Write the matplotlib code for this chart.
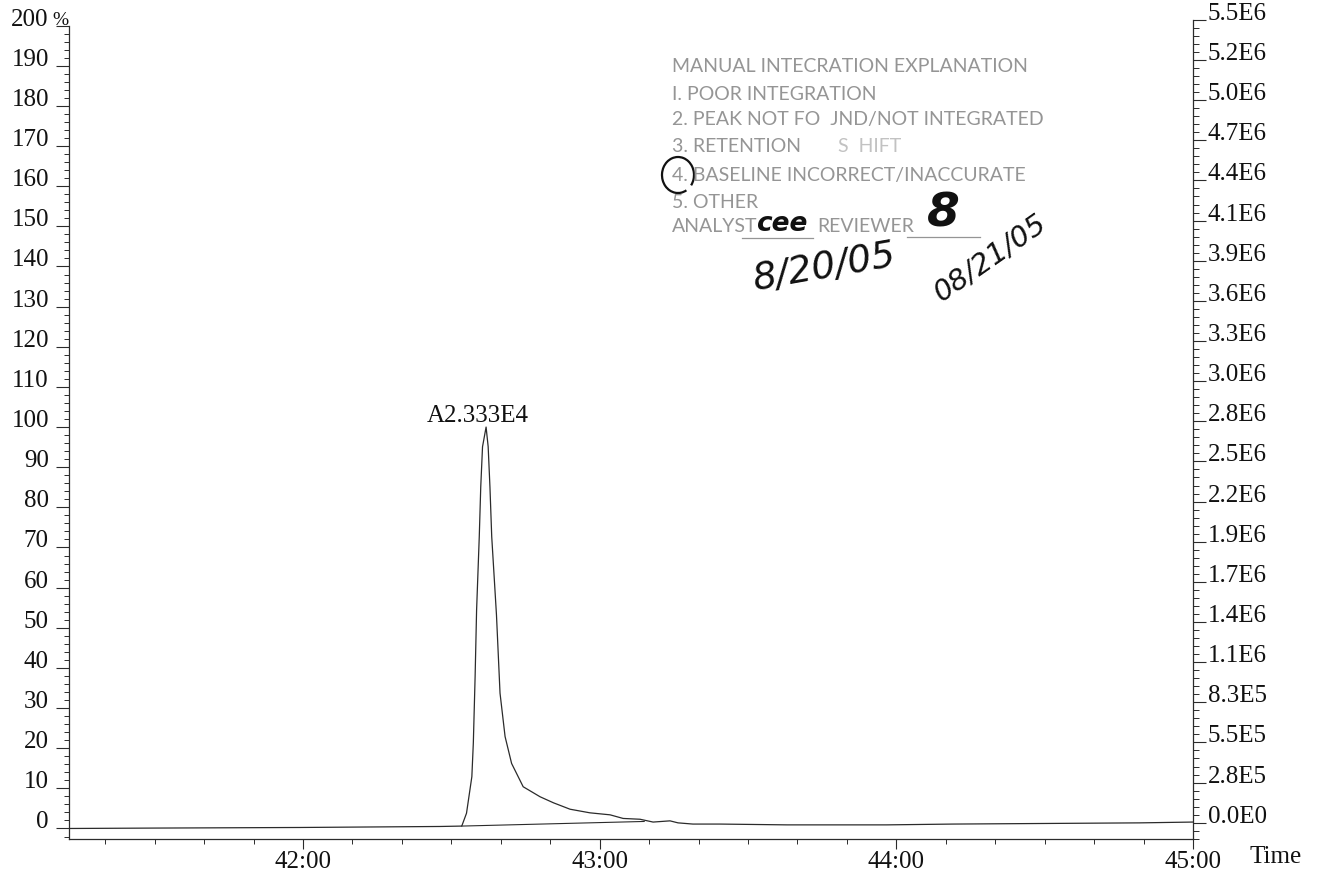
import matplotlib.pyplot as plt
import numpy as np
from matplotlib.patches import Arc
from matplotlib.lines import Line2D
from matplotlib.ticker import FixedLocator, MultipleLocator

# chromatogram trace: time (min) vs relative intensity (%)
time_min = [41.211, 41.494, 41.99, 42.462, 42.535, 42.551, 42.569, 42.574, 42.580,
            42.585, 42.594, 42.599, 42.605, 42.617, 42.624, 42.630, 42.636, 42.652,
            42.664, 42.681, 42.703, 42.742, 42.799, 42.844, 42.900, 42.967, 43.035,
            43.079, 43.136, 43.180, 43.237, 43.264, 43.314, 43.405, 43.631, 43.968,
            44.191, 44.821, 45.0]
intensity = [0.0, 0.1, 0.25, 0.5, 0.6, 3.8, 12.9, 21.3, 37.8,
             54.4, 72.7, 85.1, 95.1, 100.0, 95.1, 85.1, 72.7, 53.2,
             33.7, 22.9, 16.2, 10.4, 7.9, 6.4, 4.8, 3.9, 3.4,
             2.5, 2.3, 1.6, 1.9, 1.4, 1.1, 1.1, 0.9, 0.9,
             1.1, 1.4, 1.6]

# manual integration baseline under the peak
base_time = [42.535, 43.15]
base_int = [0.6, 1.75]

peak_label = 'A2.333E4'
peak_pos = (42.59, 101.2)

left_ticks = list(range(0, 201, 10))
right_ticks = [k * 2.75e5 for k in range(21)]
right_labels = ['0.0E0', '2.8E5', '5.5E5', '8.3E5', '1.1E6', '1.4E6', '1.7E6', '1.9E6',
                '2.2E6', '2.5E6', '2.8E6', '3.0E6', '3.3E6', '3.6E6', '3.9E6', '4.1E6',
                '4.4E6', '4.7E6', '5.0E6', '5.2E6', '5.5E6']
time_ticks = [42, 43, 44, 45]
time_labels = ['42:00', '43:00', '44:00', '45:00']

stamp_lines = ['MANUAL INTECRATION EXPLANATION',
               'I. POOR INTEGRATION',
               '2. PEAK NOT FO  JND/NOT INTEGRATED',
               '3. RETENTION',
               '4. BASELINE INCORRECT/INACCURATE',
               '5. OTHER',
               'ANALYST']

W, H = 1319, 873
def fx(px):
    return px / W
def fy(py):
    return 1 - py / H

serif = 'Liberation Serif'
fs = 18
ink = '#2b2b2b'
stamp_col = '#959595'

fig = plt.figure(figsize=(W / 100, H / 100), dpi=100)
ax = fig.add_axes([fx(69), fy(839), fx(1193) - fx(69), fy(18) - fy(839)])

ylo, yhi = -2.62, 201.9
ax.set_xlim(41.211, 45.0)
ax.set_ylim(ylo, yhi)

ax.plot(time_min, intensity, color=ink, lw=0.9)
ax.plot(base_time, base_int, color=ink, lw=0.8)
ax.text(peak_pos[0], peak_pos[1], peak_label, ha='center', va='baseline',
        fontsize=fs, family=serif, color='#111111')

for s in ['top', 'right']:
    ax.spines[s].set_visible(False)
ax.spines['left'].set_bounds(ylo, 200)
for s in ['left', 'bottom']:
    ax.spines[s].set_linewidth(0.9)
    ax.spines[s].set_color(ink)

ax.yaxis.set_major_locator(FixedLocator(left_ticks))
ax.set_yticklabels([str(v) for v in left_ticks])
ax.yaxis.set_minor_locator(MultipleLocator(2))
ax.tick_params(axis='y', which='major', direction='out', length=9.5, width=0.8,
               pad=5, labelsize=fs, colors=ink)
ax.tick_params(axis='y', which='minor', direction='out', length=3.8, width=0.7, colors=ink)
for lab in ax.get_yticklabels():
    lab.set_family(serif)
    lab.set_verticalalignment('baseline')
    lab.set_color('#111111')

ax.xaxis.set_major_locator(FixedLocator(time_ticks))
ax.set_xticklabels(time_labels)
ax.xaxis.set_minor_locator(FixedLocator(np.arange(41 + 2 / 6, 45.001, 1 / 6)))
ax.tick_params(axis='x', which='major', direction='out', length=7, width=0.8,
               pad=1.5, labelsize=fs, colors=ink)
ax.tick_params(axis='x', which='minor', direction='out', length=3.6, width=0.7, colors=ink)
for lab in ax.get_xticklabels():
    lab.set_family(serif)
    lab.set_color('#111111')

# right hand axis in counts, sits ~1.4 % higher than the left one on the scan
shift = 1.44
ax2 = ax.twinx()
ax2.set_ylim((ylo - shift) * 2.75e4, (yhi - shift) * 2.75e4)
for s in ['top', 'left', 'bottom']:
    ax2.spines[s].set_visible(False)
ax2.spines['right'].set_bounds((ylo - shift) * 2.75e4, 5.5e6)
ax2.spines['right'].set_linewidth(0.9)
ax2.spines['right'].set_color(ink)
ax2.yaxis.set_major_locator(FixedLocator(right_ticks))
ax2.set_yticklabels(right_labels)
ax2.yaxis.set_minor_locator(MultipleLocator(5.5e4))
ax2.tick_params(axis='y', which='major', direction='out', length=9.5, width=0.8,
                pad=1, labelsize=fs, colors=ink)
ax2.tick_params(axis='y', which='minor', direction='out', length=4.3, width=0.7, colors=ink)
for lab in ax2.get_yticklabels():
    lab.set_family(serif)
    lab.set_verticalalignment('baseline')
    lab.set_color('#111111')

fig.text(fx(52), fy(25), '%', ha='left', va='baseline', fontsize=14,
         family=serif, color='#111111')
fig.text(fx(1250), fy(863), 'Time', ha='left', va='baseline', fontsize=fs,
         family=serif, color='#111111')

# review stamp
stamp_y = [66, 95, 120, 146.5, 175, 203, 227]
for txt, yy in zip(stamp_lines, stamp_y):
    fig.text(fx(672), fy(yy), txt, ha='left', va='center', fontsize=14,
             family='Lato', color=stamp_col)
fig.text(fx(838), fy(146.5), 'S  HIFT', ha='left', va='center', fontsize=14,
         family='Lato', color='#c2c2c2')
fig.text(fx(817), fy(227), 'REVIEWER', ha='left', va='center', fontsize=14,
         family='Lato', color=stamp_col)
fig.add_artist(Line2D([fx(742), fx(813)], [fy(238), fy(238)], lw=0.9, color=stamp_col))
fig.add_artist(Line2D([fx(907), fx(980)], [fy(237), fy(237)], lw=0.9, color=stamp_col))

# handwriting
fig.add_artist(Arc((fx(678), fy(175)), fx(32), 36 / H, theta1=-50, theta2=290,
                   lw=1.6, color='#111111', transform=fig.transFigure))
fig.text(fx(782), fy(224), 'cee', ha='center', va='center', fontsize=19,
         style='italic', fontweight='bold', color='#111111')
fig.text(fx(943), fy(214), '8', ha='center', va='center', fontsize=34,
         style='italic', fontweight='bold', color='#111111')
fig.text(fx(825), fy(268), '8/20/05', ha='center', va='center', fontsize=27,
         style='italic', rotation=10, color='#111111')
fig.text(fx(990), fy(258), '08/21/05', ha='center', va='center', fontsize=21,
         style='italic', rotation=35, color='#111111')

fig.savefig('out.png', dpi=100)
